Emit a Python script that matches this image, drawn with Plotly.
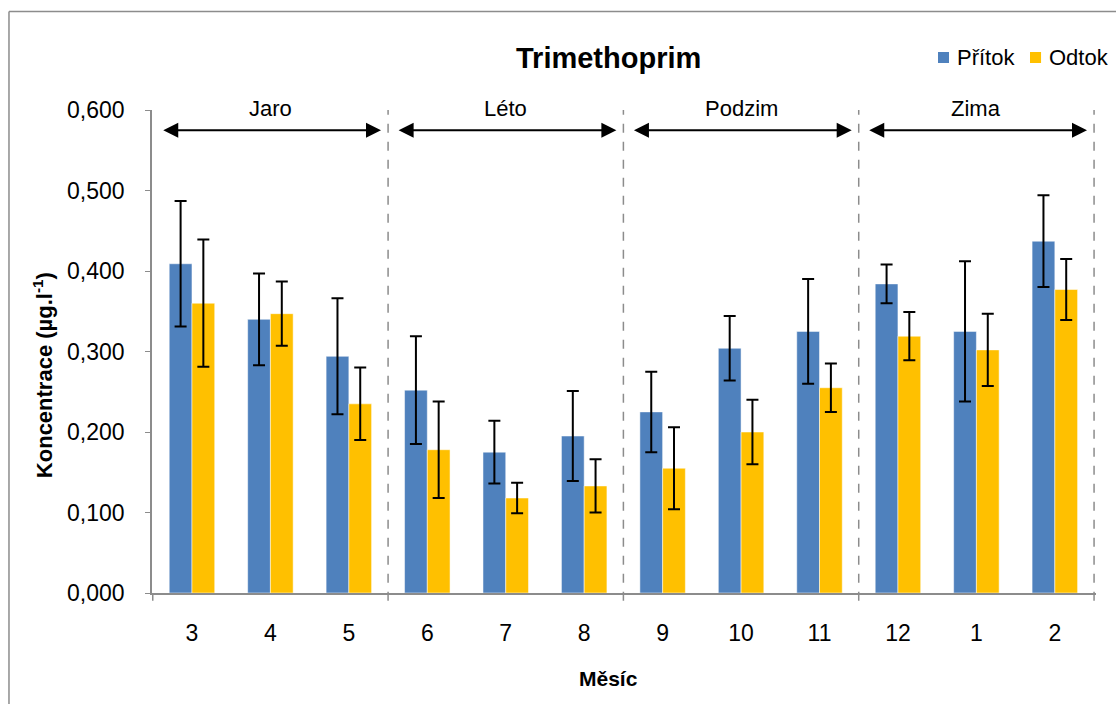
import plotly.graph_objects as go

months = ["3", "4", "5", "6", "7", "8", "9", "10", "11", "12", "1", "2"]
pritok = [0.409, 0.340, 0.294, 0.252, 0.175, 0.195, 0.225, 0.304, 0.325, 0.384, 0.325, 0.437]
pritok_err = [0.078, 0.057, 0.072, 0.067, 0.039, 0.056, 0.050, 0.040, 0.065, 0.024, 0.087, 0.057]
odtok = [0.360, 0.347, 0.235, 0.178, 0.118, 0.133, 0.155, 0.200, 0.255, 0.319, 0.302, 0.377]
odtok_err = [0.079, 0.040, 0.045, 0.060, 0.019, 0.033, 0.051, 0.040, 0.030, 0.030, 0.045, 0.038]
seasons = ["Jaro", "Léto", "Podzim", "Zima"]
series_names = ["Přítok", "Odtok"]
y_ticks = [0.0, 0.1, 0.2, 0.3, 0.4, 0.5, 0.6]

FONT = "Liberation Sans, Arial, sans-serif"
BLUE = "#4F81BD"
GOLD = "#FFC000"
GREY = "#8C8C8C"
colors = [BLUE, GOLD]

fig = go.Figure()
for name, vals, errs, col in zip(series_names, [pritok, odtok], [pritok_err, odtok_err], colors):
    fig.add_trace(go.Bar(
        x=months, y=vals, name=name,
        marker=dict(color=col, line=dict(color="rgba(255,255,255,0.5)", width=1)),
        error_y=dict(type="data", array=errs, visible=True, color="black", thickness=2, width=6),
    ))

shapes = []
n_groups = len(seasons)
for g in range(n_groups):
    xb = 3 * g + 2.5
    shapes.append(dict(type="line", xref="x", yref="paper", x0=xb, x1=xb, y0=-0.016, y1=1,
                       line=dict(color=GREY, width=1.5, dash="dash")))
shapes.append(dict(type="line", xref="x", yref="paper", x0=-0.5, x1=-0.5, y0=-0.016, y1=0,
                   line=dict(color=GREY, width=1.5)))
# outer chart frame: only left and top edges are visible in the picture
shapes.append(dict(type="line", xref="paper", yref="paper", x0=-0.1515, x1=-0.1515, y0=-0.3, y1=1.204,
                   line=dict(color=GREY, width=1.5)))
shapes.append(dict(type="line", xref="paper", yref="paper", x0=-0.1515, x1=1.1, y0=1.204, y1=1.204,
                   line=dict(color=GREY, width=1.5)))

annotations = []
for g, s in enumerate(seasons):
    c = 3 * g + 1
    annotations.append(dict(x=c, y=1.004, xref="x", yref="paper", text=s, showarrow=False,
                            font=dict(family=FONT, size=22, color="black"), yanchor="middle"))
    annotations.append(dict(x=3 * g + 2.41, y=0.575, ax=3 * g - 0.385, ay=0.575,
                            xref="x", yref="y", axref="x", ayref="y", text="",
                            showarrow=True, arrowside="end+start", arrowhead=2, startarrowhead=2,
                            arrowsize=1.5, startarrowsize=1.5, arrowwidth=2, arrowcolor="black"))

# manual legend (compact like the reference)
leg_sq_x = [0.8326, 0.9301]
leg_tx_x = [0.8506, 0.9481]
for name, col, sx, tx in zip(series_names, colors, leg_sq_x, leg_tx_x):
    shapes.append(dict(type="rect", xref="paper", yref="paper", x0=sx, x1=sx + 0.0117,
                       y0=1.0973, y1=1.1201, line=dict(width=0), fillcolor=col))
    annotations.append(dict(x=tx, y=1.1087, xref="paper", yref="paper", text=name, showarrow=False,
                            font=dict(family=FONT, size=22, color="black"),
                            xanchor="left", yanchor="middle"))

annotations.append(dict(x=0.484, y=1.1077, xref="paper", yref="paper", text="<b>Trimethoprim</b>",
                        showarrow=False, font=dict(family=FONT, size=29, color="black"),
                        xanchor="center", yanchor="middle"))
annotations.append(dict(x=-0.1155, y=0.451, xref="paper", yref="paper",
                        text="<b>Koncentrace (µg.l<sup>-1</sup>)</b>", textangle=-90, showarrow=False,
                        font=dict(family=FONT, size=22, color="black"), xanchor="center", yanchor="middle"))
annotations.append(dict(x=0.484, y=-0.176, xref="paper", yref="paper", text="<b>Měsíc</b>",
                        showarrow=False, font=dict(family=FONT, size=21, color="black"),
                        xanchor="center", yanchor="middle"))

fig.update_layout(
    width=1116, height=704,
    margin=dict(l=152, r=20, t=110, b=111),
    paper_bgcolor="white", plot_bgcolor="white",
    separators=", ",
    barmode="group", bargap=0.42, bargroupgap=0,
    font=dict(family=FONT, size=23, color="black"),
    showlegend=False,
    shapes=shapes,
    annotations=annotations,
)
fig.update_xaxes(type="category", showline=True, linecolor=GREY, linewidth=1.5, ticks="",
                 showgrid=False, zeroline=False, tickfont=dict(family=FONT, size=23, color="black"),
                 ticklabelstandoff=19)
fig.update_yaxes(range=[0, 0.6], tickvals=y_ticks, tickformat=".3f", showline=True, linecolor=GREY,
                 linewidth=1.5, ticks="outside", ticklen=5, tickcolor=GREY, showgrid=False, zeroline=False,
                 tickfont=dict(family=FONT, size=23, color="black"), ticklabelstandoff=16)

fig.write_html("out.html")
